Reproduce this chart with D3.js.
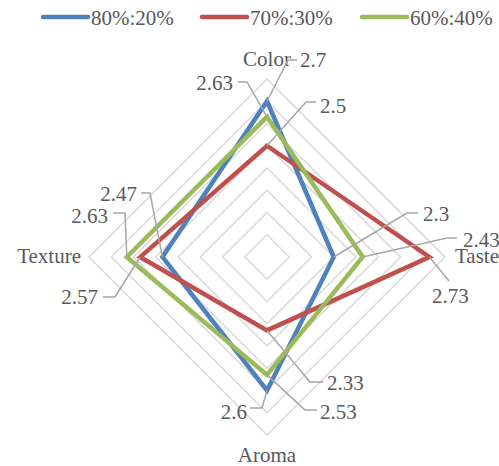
<!DOCTYPE html>
<html>
<head>
<meta charset="utf-8">
<script src="https://cdn.jsdelivr.net/npm/d3@7"></script>
<style>
  body { margin: 0; background: #fff; }
  text { font-family: "Liberation Serif", "Times New Roman", serif; fill: #595959; }
</style>
</head>
<body>
<svg id="chart" width="499" height="466"></svg>
<script>
// chart data
var axes = ['Color', 'Taste', 'Aroma', 'Texture'];
var seriesNames = ['80%:20%', '70%:30%', '60%:40%'];
var s80 = [2.7, 2.3, 2.6, 2.47];
var s70 = [2.5, 2.73, 2.33, 2.57];
var s60 = [2.63, 2.43, 2.53, 2.63];
var valueRange = [2.0, 2.8];

var seriesValues = [s80, s70, s60];
var colors = ['#4f81bd', '#c0504d', '#9bbb59'];

var svg = d3.select('#chart');
var cx = 267, cy = 257, R = 178;

var r = d3.scaleLinear().domain(valueRange).range([0, R]);
var angle = d3.scalePoint().domain(axes).range([0, 2 * Math.PI * 3 / 4]);

function pt(axis, v) {
	var a = angle(axis), d = r(v);
	return [cx + d * Math.sin(a), cy - d * Math.cos(a)];
}

// grid rings (diamonds)
var g = svg.append('g');
r.ticks(8).filter(function(t) { return t > valueRange[0]; }).forEach(function(t) {
	g.append('path')
			.attr('d', d3.line().curve(d3.curveLinearClosed)(axes.map(function(a) { return pt(a, t); })))
			.attr('fill', 'none')
			.attr('stroke', '#d9d9d9')
			.attr('stroke-width', 1.5);
});

// series polygons
seriesValues.forEach(function(vals, i) {
	svg.append('path')
			.attr('d', d3.line().curve(d3.curveLinearClosed)(axes.map(function(a, j) { return pt(a, vals[j]); })))
			.attr('fill', 'none')
			.attr('stroke', colors[i])
			.attr('stroke-width', 4.5)
			.attr('stroke-linejoin', 'miter');
});

// category labels
var catLayout = [
	{x: 267, y: 66, anchor: 'middle'},
	{x: 455, y: 263, anchor: 'start'},
	{x: 267, y: 462, anchor: 'middle'},
	{x: 81, y: 263, anchor: 'end'}
];
axes.forEach(function(a, i) {
	svg.append('text')
			.attr('x', catLayout[i].x).attr('y', catLayout[i].y)
			.attr('text-anchor', catLayout[i].anchor)
			.attr('font-size', 21)
			.text(a);
});

// data label layout: series index, axis index, text pos, leader elbow points
var labelLayout = [
	{s: 0, a: 0, x: 300, y: 60, anchor: 'start', lead: [[297, 60], [288, 60]]},
	{s: 2, a: 0, x: 233, y: 83, anchor: 'end', lead: [[238, 82], [247, 82]]},
	{s: 1, a: 0, x: 320, y: 106, anchor: 'start', lead: [[316, 102], [306, 102]]},
	{s: 0, a: 1, x: 423, y: 214, anchor: 'start', lead: [[418, 213], [407, 213]]},
	{s: 2, a: 1, x: 463, y: 240, anchor: 'start', lead: [[457, 238], [447, 238]]},
	{s: 1, a: 1, x: 432, y: 296, anchor: 'start', lead: [[449, 281]]},
	{s: 1, a: 2, x: 327, y: 383, anchor: 'start', lead: [[323, 382], [310, 382]]},
	{s: 2, a: 2, x: 320, y: 412, anchor: 'start', lead: [[317, 410], [305, 410]]},
	{s: 0, a: 2, x: 247, y: 412, anchor: 'end', lead: [[250, 408], [262, 408]]},
	{s: 0, a: 3, x: 137, y: 194, anchor: 'end', lead: [[141, 193], [150, 193]]},
	{s: 2, a: 3, x: 108, y: 216, anchor: 'end', lead: [[113, 213], [125, 213]]},
	{s: 1, a: 3, x: 98, y: 297, anchor: 'end', lead: [[103, 297], [115, 297]]}
];

labelLayout.forEach(function(l) {
	var v = seriesValues[l.s][l.a];
	var p = pt(axes[l.a], v);
	svg.append('path')
			.attr('d', d3.line()(l.lead.concat([p])))
			.attr('fill', 'none')
			.attr('stroke', '#a6a6a6')
			.attr('stroke-width', 1.5);
	svg.append('text')
			.attr('x', l.x).attr('y', l.y + 7)
			.attr('text-anchor', l.anchor)
			.attr('font-size', 21)
			.text(v);
});

// legend
var legendX = [43, 202, 362];
seriesNames.forEach(function(n, i) {
	var lg = svg.append('g').attr('transform', 'translate(' + legendX[i] + ',17)');
	lg.append('line')
			.attr('x1', 0).attr('x2', 45)
			.attr('stroke', colors[i])
			.attr('stroke-width', 4.5)
			.attr('stroke-linecap', 'round');
	lg.append('text')
			.attr('x', 48).attr('y', 7.5)
			.attr('font-size', 21)
			.text(n);
});
</script>
</body>
</html>
